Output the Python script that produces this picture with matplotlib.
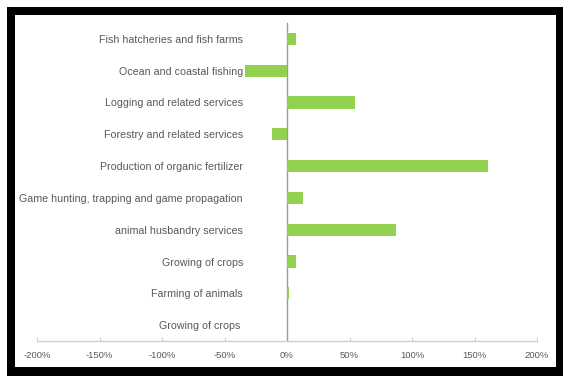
import matplotlib
matplotlib.use("Agg")
import matplotlib.pyplot as plt
from matplotlib.patches import Rectangle

categories = [
    "Fish hatcheries and fish farms",
    "Ocean and coastal fishing",
    "Logging and related services",
    "Forestry and related services",
    "Production of organic fertilizer",
    "Game hunting, trapping and game propagation",
    "animal husbandry services",
    "Growing of crops",
    "Farming of animals",
    "Growing of crops ",
]
values = [7, -34, 54, -12, 161, 12.5, 87, 7, 1.5, 0.3]
xticks = [-200, -150, -100, -50, 0, 50, 100, 150, 200]
xtick_labels = ["-200%", "-150%", "-100%", "-50%", "0%", "50%", "100%", "150%", "200%"]

W, H = 563, 376
fig = plt.figure(figsize=(W / 100, H / 100), dpi=100)
fig.patch.set_facecolor("white")
plt.rcParams["font.family"] = ["Liberation Sans", "DejaVu Sans"]

# black frame
for (x0, y0, w, h) in [(7, H - 15, W - 7, 8), (7, 0, 8, H - 7), (556, 0, 7, H - 7), (7, 0, W - 7, 9)]:
    fig.patches.append(Rectangle((x0 / W, y0 / H), w / W, h / H, transform=fig.transFigure,
                                 facecolor="black", edgecolor="none", zorder=10))

ax = fig.add_axes([37 / W, 35 / H, 500 / W, 318 / H])
ypos = list(range(len(categories)))
ax.barh(ypos, values, height=0.38, color="#92D050", zorder=3)
ax.set_ylim(len(categories) - 0.5, -0.5)
ax.set_xlim(-200, 200)

for s in ["top", "right"]:
    ax.spines[s].set_visible(False)
ax.spines["left"].set_position(("data", 0))
ax.spines["left"].set_color("#9A9A9A")
ax.spines["left"].set_linewidth(1.0)
ax.spines["bottom"].set_color("#D0D0D0")
ax.spines["bottom"].set_linewidth(1.0)

ax.set_yticks(ypos)
ax.set_yticklabels(categories, fontsize=7.7, color="#595959")
ax.tick_params(axis="y", length=0, pad=31.7)
ax.set_xticks(xticks)
ax.set_xticklabels(xtick_labels, fontsize=6.8, color="#595959")
ax.tick_params(axis="x", direction="in", length=3, color="#D0D0D0", pad=7)

fig.savefig("out.png", dpi=100, facecolor="white")
